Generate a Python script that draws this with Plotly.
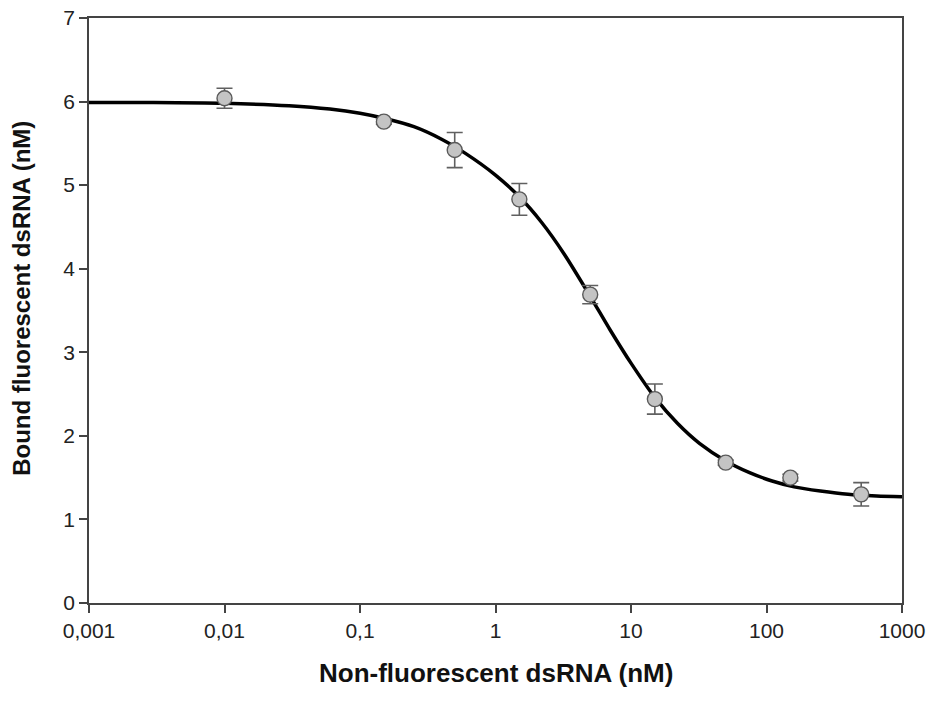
import plotly.graph_objects as go

# Measured data points
conc = [0.01, 0.15, 0.5, 1.5, 5, 15, 50, 150, 500]
bound = [6.04, 5.76, 5.42, 4.83, 3.69, 2.44, 1.68, 1.50, 1.30]
err = [0.12, 0.03, 0.21, 0.19, 0.11, 0.18, 0.03, 0.04, 0.14]

# Fitted curve
fit_x = [0.001, 0.003, 0.01, 0.03, 0.06, 0.1, 0.15, 0.25, 0.4, 0.6, 1.0, 1.5, 2.2, 3.2,
         5, 7, 10, 15, 22, 32, 50, 75, 110, 160, 250, 400, 650, 1000]
fit_y = [5.99, 5.99, 5.98, 5.95, 5.91, 5.86, 5.80, 5.70, 5.55, 5.38, 5.12, 4.86, 4.55, 4.18,
         3.67, 3.27, 2.87, 2.46, 2.15, 1.91, 1.70, 1.56, 1.46, 1.39, 1.34, 1.30, 1.28, 1.27]

xtick_vals = [0.001, 0.01, 0.1, 1, 10, 100, 1000]
xtick_text = ["0,001", "0,01", "0,1", "1", "10", "100", "1000"]
ytick_vals = [0, 1, 2, 3, 4, 5, 6, 7]

font_family = "Liberation Sans, Arial, sans-serif"

fig = go.Figure()
fig.add_trace(go.Scatter(
    x=fit_x, y=fit_y, mode="lines",
    line=dict(color="black", width=3.5, shape="spline", smoothing=0.8),
    hoverinfo="skip", showlegend=False,
))
fig.add_trace(go.Scatter(
    x=conc, y=bound, mode="markers",
    error_y=dict(type="data", array=err, visible=True, color="#606060", thickness=1.6, width=8),
    marker=dict(size=15, color="#c4c4c4", line=dict(color="#5a5a5a", width=1.4)),
    showlegend=False,
))

fig.update_layout(
    width=932, height=703,
    margin=dict(l=89, r=30, t=18, b=100),
    paper_bgcolor="white", plot_bgcolor="white",
    font=dict(family=font_family, size=21, color="#222222"),
    xaxis=dict(
        type="log", range=[-3, 3], automargin=False,
        tickvals=xtick_vals, ticktext=xtick_text,
        ticks="outside", ticklen=8, tickwidth=1.6, tickcolor="#444444",
        showline=True, linecolor="#444444", linewidth=1.6, mirror=True,
        showgrid=False, zeroline=False,
    ),
    yaxis=dict(
        range=[0, 7], tickvals=ytick_vals, automargin=False,
        ticks="outside", ticklen=8, tickwidth=1.6, tickcolor="#444444",
        showline=True, linecolor="#444444", linewidth=1.6, mirror=True,
        showgrid=False, zeroline=False,
    ),
    annotations=[
        dict(text="<b>Non-fluorescent dsRNA (nM)</b>", xref="paper", yref="paper",
             x=0.5, y=-0.0, yshift=-70, showarrow=False, xanchor="center", yanchor="middle",
             font=dict(size=26, color="#111111")),
        dict(text="<b>Bound fluorescent dsRNA (nM)</b>", xref="paper", yref="paper",
             x=0, xshift=-67, y=0.52, textangle=-90, showarrow=False,
             xanchor="center", yanchor="middle",
             font=dict(size=24, color="#111111")),
    ],
)

fig.write_html("out.html")
